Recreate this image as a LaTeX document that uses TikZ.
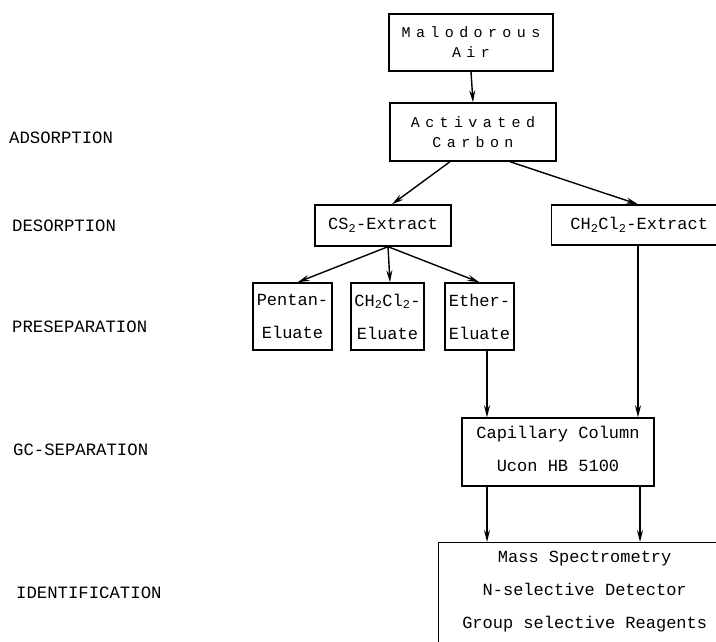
\documentclass[tikz,border=0pt]{standalone}
\usepackage{fontspec}
\setmainfont{Liberation Mono}
\newfontfamily\spacedfont[LetterSpace=36]{Liberation Mono}
\usetikzlibrary{arrows.meta}
\tikzset{
  box/.style={draw, line width=1.4pt, rectangle, inner sep=0pt, align=center,
    font=\fontsize{17}{33}\selectfont},
  boxtext/.style={inner sep=0pt, align=center, font=\fontsize{17}{33}\selectfont},
  smallbox/.style={box, font=\spacedfont\fontsize{15}{20}\selectfont},
  stage/.style={anchor=west, inner sep=0pt, font=\fontsize{17.3}{20}\selectfont},
  flow/.style={line width=1.4pt, -{Stealth[length=12pt,width=6pt]}},
}
\begin{document}
\begin{tikzpicture}[x=1pt,y=-1pt]
\clip (0,0) rectangle (716,641);
\fill[white] (0,0) rectangle (716,641);
% stage labels
\node[stage] (l1) at (9,138) {ADSORPTION};
\node[stage] (l2) at (12,226) {DESORPTION};
\node[stage] (l3) at (12,327) {PRESEPARATION};
\node[stage] (l4) at (13,450) {GC-SEPARATION};
\node[stage] (l5) at (16,593) {IDENTIFICATION};
% boxes
\node[smallbox, minimum width=164pt, minimum height=57pt] (air) at (471,42.5) {Malodorous\\Air};
\node[smallbox, minimum width=166pt, minimum height=58pt] (carbon) at (473,132) {Activated\\Carbon};
\node[box, minimum width=136pt, minimum height=41pt] (cs2) at (383,225.5) {CS\textsubscript{2}-Extract};
\node[box, anchor=west, minimum height=40pt, minimum width=175pt] (ch2ext) at (551,225) {CH\textsubscript{2}Cl\textsubscript{2}-Extract};
\node[box, minimum width=79pt, minimum height=67pt] (pentan) at (292.5,316.5) {Pentan-\\Eluate};
\node[box, minimum width=73pt, minimum height=67pt] (ch2el) at (387.5,316.5) {CH\textsubscript{2}Cl\textsubscript{2}-\\Eluate};
\node[box, minimum width=69pt, minimum height=67pt] (ether) at (479.5,316.5) {Ether-\\Eluate};
\node[box, minimum width=192pt, minimum height=68pt] (cap) at (558,452) {};
\node[boxtext] (captext) at (558,449) {Capillary Column\\Ucon HB 5100};
\node[box, anchor=north west, minimum width=292pt, inner ysep=8pt] (ident) at (438,542) {Mass Spectrometry\\N-selective Detector\\Group selective Reagents\\[10pt]~};
% connectors
\draw[flow] (air.south) -- (carbon.north);
\draw[flow] ([xshift=-23pt]carbon.south) -- ([xshift=9pt]cs2.north);
\draw[flow] ([xshift=37pt]carbon.south) -- (ch2ext.north -| 638,0);
\draw[flow] ([xshift=5pt]cs2.south) -- ([xshift=5pt]pentan.north);
\draw[flow] ([xshift=5pt]cs2.south) -- ([xshift=2.5pt]ch2el.north);
\draw[flow] ([xshift=5pt]cs2.south) -- (ether.north);
\draw[flow] (ether.south -| 487,0) -- (cap.north -| 487,0);
\draw[flow] (ch2ext.south -| 638,0) -- (cap.north -| 638,0);
\draw[flow] (cap.south -| 487,0) -- (ident.north -| 487,0);
\draw[flow] (cap.south -| 640,0) -- (ident.north -| 640,0);
\end{tikzpicture}
\end{document}
